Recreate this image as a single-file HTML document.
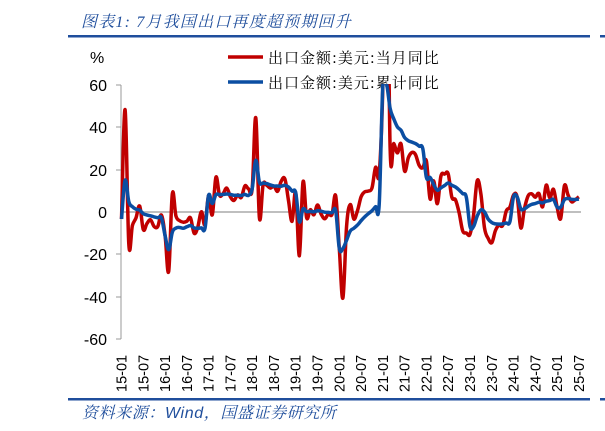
<!DOCTYPE html>
<html><head><meta charset="utf-8"><style>
html,body{margin:0;padding:0;background:#fff;}
svg{display:block;}
</style></head><body>
<svg id="c" width="605" height="431" xmlns="http://www.w3.org/2000/svg" font-family="'Liberation Sans','Noto Sans CJK SC',sans-serif">
<defs><clipPath id="cp"><rect x="110" y="84" width="495" height="270"/></clipPath></defs>
<text x="81" y="27" font-size="16" font-style="italic" fill="#1f4e9c" letter-spacing="1.2" font-family="'Liberation Serif','Noto Serif CJK SC',serif">图表1:  7月我国出口再度超预期回升</text>
<rect x="68" y="35" width="522" height="2.5" fill="#1f4e9c"/>
<rect x="600" y="35" width="5" height="2.5" fill="#1f4e9c"/>
<text x="90" y="63" font-size="16" fill="#000">%</text>
<line x1="228" y1="57" x2="263" y2="57" stroke="#c00000" stroke-width="3.5"/>
<text x="268" y="63" font-size="15" fill="#000" font-family="'Noto Serif CJK SC',serif" letter-spacing="1">出口金额:美元:当月同比</text>
<line x1="228" y1="82" x2="263" y2="82" stroke="#0b4ea2" stroke-width="3.5"/>
<text x="268" y="88" font-size="15" fill="#000" font-family="'Noto Serif CJK SC',serif" letter-spacing="1">出口金额:美元:累计同比</text>
<g font-size="16" text-anchor="end" fill="#000">
<text x="107" y="91">60</text><text x="107" y="133">40</text><text x="107" y="176">20</text><text x="107" y="218">0</text><text x="107" y="260">-20</text><text x="107" y="303">-40</text><text x="107" y="345">-60</text>
</g>
<g stroke="#999" stroke-width="1">
<line x1="121" y1="85" x2="121" y2="339"/>
<line x1="116" y1="85" x2="121" y2="85"/><line x1="116" y1="127" x2="121" y2="127"/><line x1="116" y1="170" x2="121" y2="170"/><line x1="116" y1="254" x2="121" y2="254"/><line x1="116" y1="297" x2="121" y2="297"/><line x1="116" y1="339" x2="121" y2="339"/>
</g>
<line x1="121" y1="212" x2="581" y2="212" stroke="#bfbfbf" stroke-width="2"/>
<g id="lines" clip-path="url(#cp)"></g>
<g id="xl" font-size="14.5" fill="#000"></g>
<rect x="68" y="398" width="522" height="2.5" fill="#1f4e9c"/>
<rect x="600" y="398" width="5" height="2.5" fill="#1f4e9c"/>
<text x="82" y="418" font-size="16" font-style="italic" fill="#1f4e9c" letter-spacing="0.6" font-family="'Liberation Sans','Noto Serif CJK SC',sans-serif">资料来源：Wind，国盛证券研究所</text>
</svg>
<script>
var red=[-3.3,48.3,-15,-6.4,-2.8,2.8,-8.3,-5.5,-3.7,-6.9,-6.8,-1.4,
-11.2,-28,8.5,-1.8,-4.1,-4.8,-4.4,-2.8,-10,-7.3,0.1,-6.1,
7.9,-1.3,16.4,8,8.7,11.3,7.2,5.5,8.1,6.9,12.3,10.9,
11.1,44.5,-2.7,12.9,12.6,11.3,12.2,9.8,14.5,15.6,5.4,-4.4,
9.1,-20.7,14.2,-2.7,1.1,-1.3,3.3,-1,-3.2,-0.9,-1.1,7.6,
-17.2,-40.6,-6.6,3.5,-3.3,0.5,7.2,9.5,9.9,11.4,21.1,18.1,
60.6,154.9,30.6,32.3,27.9,32.2,19.3,25.6,28.1,27.1,22,20.9,
24.1,6.2,14.7,3.9,16.9,17.9,18,7.1,5.7,-0.3,-8.9,-9.9,
-10.5,-1.3,14.8,8.5,-7.5,-12.4,-14.5,-8.8,-6.2,-6.4,0.5,2.3,
8,7,-7.5,1.5,7.6,8.6,7,8.7,2.4,12.7,6.7,10.7,
2.3,-3,12.4,8.1,4.8,5.8,7.2];
var blue=[-3.3,15,4.9,2.5,1.3,0.9,-0.8,-1.4,-1.8,-2.3,-2.7,-2.8,
-11.2,-17.8,-9.6,-7.6,-7.3,-7.7,-7,-6.4,-7.5,-7.7,-7.5,-7.7,
7.9,4,8.2,8.2,8.3,8.5,8.3,7.9,7.9,7.8,8.3,7.9,
11.1,24.4,14.1,13.7,13.4,12.8,12.3,12.3,12.2,12.6,11.8,9.9,
9.1,-4.6,1.4,0.2,0.3,0.1,0.6,0.4,-0.1,-0.2,-0.3,0.5,
-17.2,-17.2,-13.3,-9,-7.7,-6.2,-4.1,-2.3,-0.8,0.6,2.5,3.6,
60.6,60.6,49,44,40.2,38.6,35.2,33.7,33,32.3,31.1,29.9,
16.3,16.3,13,10.3,11.4,12.5,13.7,12.6,11.8,10.4,8.7,7,
-6.8,-6.8,-1.9,1,0,-3.3,-5,-5.6,-5.7,-5.6,-5.2,-4.6,
7.1,7.1,1.5,1.5,2.7,3.6,4,4.6,4.3,5.1,5.4,5.9,
2.3,2.3,5.8,6.4,6,5.9,6.1];
function X(i){return 121.5+3.63*i;}
function Y(v){return 212-v*2.117;}
function path(a){
 var p=a.map(function(v,i){return [X(i),Y(v)];});
 var d='M'+p[0][0].toFixed(1)+','+p[0][1].toFixed(1);
 for(var i=0;i<p.length-1;i++){
  var p0=p[i-1]||p[i],p1=p[i],p2=p[i+1],p3=p[i+2]||p2,t=0.18;
  d+='C'+(p1[0]+(p2[0]-p0[0])*t).toFixed(1)+','+(p1[1]+(p2[1]-p0[1])*t).toFixed(1)+' '+(p2[0]-(p3[0]-p1[0])*t).toFixed(1)+','+(p2[1]-(p3[1]-p1[1])*t).toFixed(1)+' '+p2[0].toFixed(1)+','+p2[1].toFixed(1);
 }
 return d;
}
var NS='http://www.w3.org/2000/svg';
var g=document.getElementById('lines');
[[red,'#c00000'],[blue,'#0b4ea2']].forEach(function(s){
 var e=document.createElementNS(NS,'path');
 e.setAttribute('d',path(s[0]));e.setAttribute('fill','none');
 e.setAttribute('stroke',s[1]);e.setAttribute('stroke-width','3.5');
 e.setAttribute('stroke-linejoin','round');g.appendChild(e);
});
var xl=document.getElementById('xl');
for(var k=0;k<22;k++){
 var yr=15+Math.floor(k/2),m=k%2?'07':'01';
 var x=X(k*6)+5,y=392;
 var t=document.createElementNS(NS,'text');
 t.setAttribute('transform','translate('+x.toFixed(1)+','+y+') rotate(-90)');
 t.textContent=yr+'-'+m;xl.appendChild(t);
}
</script>
</body></html>
